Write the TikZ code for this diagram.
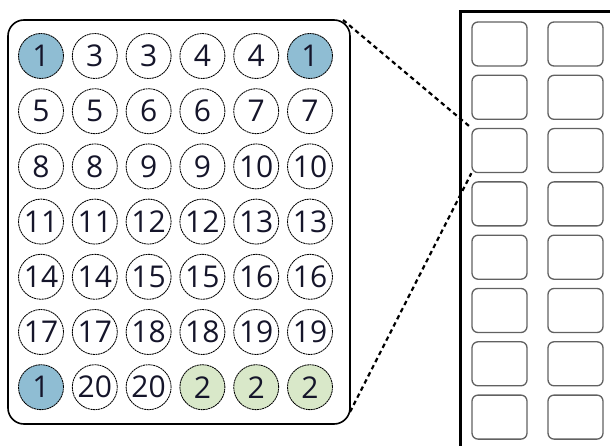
\documentclass[tikz,border=0pt]{standalone}
\usepackage{fontspec}
\setmainfont{Open Sans}
\definecolor{wellblue}{HTML}{8FBDD3}
\definecolor{wellgreen}{HTML}{D9E8C9}
\definecolor{welltext}{HTML}{15152A}
\tikzset{
  well/.style={circle, draw=black, line width=0.85pt, dash pattern=on 2pt off 0.6pt,
    minimum size=45pt, inner sep=0pt, text=welltext, font=\fontsize{30}{30}\selectfont},
  plate/.style={draw=black, line width=1.6pt, rounded corners=16pt, minimum width=342pt,
    minimum height=404pt, inner sep=0pt},
  slot/.style={draw=black!62, line width=1.3pt, rounded corners=6pt, minimum width=55pt,
    minimum height=44pt, inner sep=0pt},
  zoomline/.style={draw=black, line width=2.2pt, dash pattern=on 4.5pt off 3.5pt}
}
\begin{document}
\begin{tikzpicture}[x=1pt,y=-1pt]
\useasboundingbox (0,0) rectangle (610,446);
\clip (0,0) rectangle (610,446);
\fill[white] (0,0) rectangle (610,446);
% plate
\node[plate] (plate) at (179,222) {};
% wells
\foreach \r/\labs in {1/{1/wellblue,3/white,3/white,4/white,4/white,1/wellblue},
  2/{5/white,5/white,6/white,6/white,7/white,7/white},
  3/{8/white,8/white,9/white,9/white,10/white,10/white},
  4/{11/white,11/white,12/white,12/white,13/white,13/white},
  5/{14/white,14/white,15/white,15/white,16/white,16/white},
  6/{17/white,17/white,18/white,18/white,19/white,19/white},
  7/{1/wellblue,20/white,20/white,2/wellgreen,2/wellgreen,2/wellgreen}}{
  \foreach \lab/\col [count=\c] in \labs {
    \node[well, fill=\col] (w\r-\c) at ({41+53.8*(\c-1)},{56+55.2*(\r-1)}) {\lab};
  }
}
% right panel
\node[draw=black, line width=3pt, minimum width=200pt, minimum height=500pt, inner sep=0pt,
  anchor=north west] (panel) at (459,10) {};
\foreach \k in {1,...,8}{
  \node[slot] (s\k-1) at (499.5,{44+53.3*(\k-1)}) {};
  \node[slot] (s\k-2) at (575.5,{44+53.3*(\k-1)}) {};
}
% zoom lines
\coordinate (pt) at (343,20);
\coordinate (pb) at (350,412);
\draw[zoomline] (pt) -- (s3-1.north west);
\draw[zoomline] (pb) -- (s3-1.south west);
\end{tikzpicture}
\end{document}
